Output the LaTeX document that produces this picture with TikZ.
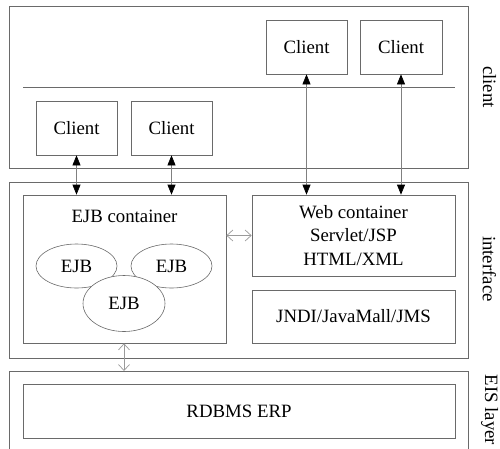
\documentclass[tikz,border=0pt]{standalone}
\usepackage{fontspec}
\setmainfont{Liberation Serif}
\usetikzlibrary{arrows.meta,shapes.geometric}
\definecolor{boxc}{HTML}{6A6A6A}
\definecolor{linec}{HTML}{808080}
\definecolor{lightc}{HTML}{9A9A9A}
\tikzset{
  box/.style={draw=boxc, line width=0.7pt, inner sep=0pt, align=center},
  ell/.style={draw=boxc, line width=0.6pt, ellipse, inner sep=0pt, fill=white},
  blk/.style={draw=linec, line width=0.7pt, {Triangle[length=10pt,width=8pt,fill=black,color=black]}-{Triangle[length=10pt,width=8pt,fill=black,color=black]}},
  gr/.style={draw=lightc, line width=0.7pt, {Straight Barb[length=6pt,width=11pt]}-{Straight Barb[length=6pt,width=11pt]}},
  side/.style={rotate=-90, inner sep=0pt}
}
\begin{document}
\begin{tikzpicture}[x=1pt,y=-1pt, font=\fontsize{18.8}{23.5}\selectfont]
\useasboundingbox (0,0) rectangle (500,448);
% client layer
\node[box, minimum width=459pt, minimum height=162pt] (L1) at (238.5,87) {};
\coordinate (hl) at (23,87);
\coordinate (hr) at (455,87);
\draw[draw=boxc, line width=0.7pt] (hl) -- (hr);
\node[box, minimum width=81pt, minimum height=54pt] (c3) at (306.5,47) {Client};
\node[box, minimum width=82pt, minimum height=54pt] (c4) at (401,47) {Client};
\node[box, minimum width=81pt, minimum height=54pt] (c1) at (76.5,128) {Client};
\node[box, minimum width=81pt, minimum height=54pt] (c2) at (171.5,128) {Client};
% interface layer
\node[box, minimum width=459pt, minimum height=176pt] (L2) at (238.5,270) {};
\node[box, minimum width=203pt, minimum height=148pt] (ejbc) at (124.5,269) {};
\node (ejbt) at (124.5,216) {EJB container};
\node[box, minimum width=203pt, minimum height=81pt] (web) at (353.5,235.5) {Web container\\Servlet/JSP\\HTML/XML};
\node[box, minimum width=203pt, minimum height=53pt] (jndi) at (353.5,316.5) {JNDI/JavaMall/JMS};
\node[ell, minimum width=81pt, minimum height=44pt] (e1) at (76.5,266) {EJB};
\node[ell, minimum width=81pt, minimum height=44pt] (e2) at (171.5,266) {EJB};
\node[ell, minimum width=82pt, minimum height=56pt] (e3) at (124,303.5) {EJB};
% EIS layer
\coordinate (eisbl) at (9,449);
\coordinate (eistl) at (9,371);
\coordinate (eistr) at (468,371);
\coordinate (eisbr) at (468,449);
\draw[draw=boxc, line width=0.7pt] (eisbl) -- (eistl) -- (eistr) -- (eisbr);
\node[box, minimum width=432pt, minimum height=54pt] (rdb) at (239,411) {RDBMS ERP};
% connectors
\draw[blk] (c1.south) -- (c1.south |- ejbc.north);
\draw[blk] (c2.south) -- (c2.south |- ejbc.north);
\draw[blk] (c3.south) -- (c3.south |- web.north);
\draw[blk] (c4.south) -- (c4.south |- web.north);
\draw[gr] (ejbc.east |- web.west) -- (web.west);
\draw[gr] (ejbc.south -| e3.center) -- (e3.center |- eistl);
% side labels
\node[side] (lc) at (489.5,87) {client};
\node[side] (li) at (489.5,269) {interface};
\node[side] (le) at (489.5,410) {EIS layer};
\end{tikzpicture}
\end{document}
